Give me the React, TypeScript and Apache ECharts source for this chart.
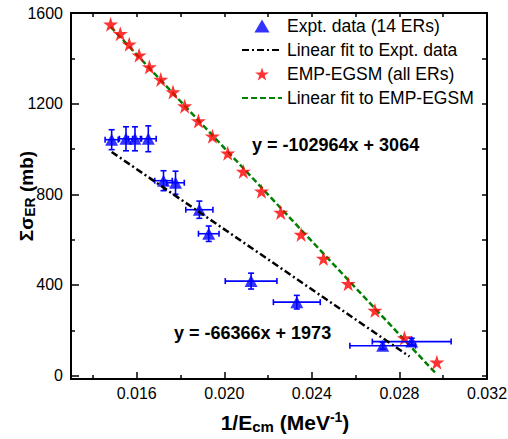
import React, { useEffect, useRef } from "react";
import * as echarts from "echarts";

const FONT = '"Liberation Sans", Arial, Helvetica, sans-serif';

// axis ticks
const xTicksMajor = [0.016, 0.02, 0.024, 0.028, 0.032];
const xTicksMinor = [0.014, 0.018, 0.022, 0.026, 0.03];
const yTicksMajor = [0, 400, 800, 1200, 1600];
const yTicksMinor = [200, 600, 1000, 1400];

// Expt. data (14 ERs)
const exptX = [0.014857, 0.015511, 0.015922, 0.01653, 0.017225, 0.017774, 0.018862, 0.019291, 0.021225, 0.023314, 0.027237, 0.028562];
const exptY = [1041, 1045, 1045, 1045, 860, 851, 732, 626, 417, 324, 132, 150];
const exptXErr = [0.0003, 0.0003, 0.0003, 0.00036, 0.0004, 0.0004, 0.00062, 0.00047, 0.00118, 0.00107, 0.0015, 0.0018];
const exptYErr = [44, 53, 53, 57, 44, 51, 38, 34, 35, 30, 15, 15];

// EMP-EGSM (all ERs)
const empX = [0.01481, 0.01525, 0.01566, 0.01611, 0.01658, 0.0171, 0.01766, 0.01819, 0.01882, 0.01946, 0.02016, 0.02087, 0.0217, 0.02258, 0.02351, 0.02453, 0.02566, 0.02688, 0.02823, 0.02971];
const empY = [1550, 1508, 1462, 1414, 1362, 1307, 1251, 1189, 1123, 1056, 981, 901, 813, 720, 623, 517, 405, 287, 166, 59];

// linear fits: [slope, intercept] and x-range
const exptFitCoef = [-66366, 1973];
const exptFitRange = [0.014857, 0.028462];
const empFitCoef = [-102964, 3064];
const empFitRange = [0.01481, 0.02964];

const X_MIN = 0.013;
const X_MAX = 0.032;
const Y_MIN = -15;
const Y_MAX = 1600;

const STAR = "path://M50,0 L61.8,35.1 L98.9,35.1 L68.9,56.8 L80.3,91.9 L50,70.2 L19.7,91.9 L31.1,56.8 L1.1,35.1 L38.2,35.1 Z";
const TRI = "path://M50,0 L100,86 L0,86 Z";

const fitPoints = (coef: number[], range: number[]) => range.map((x) => [x, coef[0] * x + coef[1]]);
const eqText = (coef: number[]) => `y = ${coef[0]}x + ${coef[1]}`;

const tickStyle = { color: "#000", width: 1.5 };

export default function App() {
  const ref = useRef<HTMLDivElement>(null);
  useEffect(() => {
    if (!ref.current) return;
    const chart = echarts.init(ref.current, null, { renderer: "svg" });
    const richX = {
      b: { fontSize: 21, fontWeight: "bold", fontFamily: FONT, color: "#000", lineHeight: 24 },
      sub: { fontSize: 15, fontWeight: "bold", fontFamily: FONT, color: "#000", lineHeight: 8, verticalAlign: "bottom" },
      sup: { fontSize: 14, fontWeight: "bold", fontFamily: FONT, color: "#000", lineHeight: 13, verticalAlign: "top" },
    };
    const richY = {
      b: { fontSize: 19, fontWeight: "bold", fontFamily: FONT, color: "#000", lineHeight: 22 },
      sub: { fontSize: 14, fontWeight: "bold", fontFamily: FONT, color: "#000", lineHeight: 8, verticalAlign: "bottom" },
    };
    const option: any = {
      animation: false,
      backgroundColor: "#fff",
      grid: { left: 71, right: 21, top: 13, bottom: 60, containLabel: false, outerBoundsMode: "none" },
      legend: {
        orient: "vertical",
        left: 236,
        top: 11,
        itemWidth: 40,
        itemHeight: 13,
        itemGap: 4,
        textStyle: { fontSize: 17.5, fontFamily: FONT, color: "#000", lineHeight: 20 },
        data: [
          { name: "Expt. data (14 ERs)", icon: TRI },
          { name: "Linear fit to Expt. data", itemStyle: { opacity: 0 } },
          { name: "EMP-EGSM (all ERs)", icon: STAR },
          { name: "Linear fit to EMP-EGSM", itemStyle: { opacity: 0 } },
        ],
      },
      xAxis: [
        {
          type: "value",
          min: X_MIN,
          max: X_MAX,
          position: "bottom",
          axisLine: { show: true, onZero: false, lineStyle: { color: "#000", width: 2 } },
          axisTick: { show: true, inside: true, length: 7, customValues: xTicksMajor, lineStyle: tickStyle },
          axisLabel: { show: true, customValues: xTicksMajor, formatter: (v: number) => v.toFixed(3), fontSize: 16, fontFamily: FONT, color: "#000", margin: 6 },
          splitLine: { show: false },
          name: "{b|1/E}{sub|cm}{b| (MeV}{sup|-1}{b|)}",
          nameLocation: "middle",
          nameGap: 31,
          nameMoveOverlap: false,
          nameTextStyle: { rich: richX, padding: [0, 0, 0, 12] },
        },
        {
          type: "value",
          min: X_MIN,
          max: X_MAX,
          position: "bottom",
          axisLine: { show: false, onZero: false },
          axisTick: { show: true, inside: true, length: 4, customValues: xTicksMinor, lineStyle: tickStyle },
          axisLabel: { show: false },
          splitLine: { show: false },
        },
        {
          type: "value",
          min: X_MIN,
          max: X_MAX,
          position: "top",
          axisLine: { show: true, onZero: false, lineStyle: { color: "#000", width: 2 } },
          axisTick: { show: true, inside: true, length: 4, customValues: [...xTicksMajor, ...xTicksMinor], lineStyle: tickStyle },
          axisLabel: { show: false },
          splitLine: { show: false },
        },
      ],
      yAxis: [
        {
          type: "value",
          min: Y_MIN,
          max: Y_MAX,
          position: "left",
          axisLine: { show: true, onZero: false, lineStyle: { color: "#000", width: 2 } },
          axisTick: { show: true, inside: true, length: 8, customValues: yTicksMajor, lineStyle: tickStyle },
          axisLabel: { show: true, customValues: yTicksMajor, formatter: (v: number) => String(v), fontSize: 16, fontFamily: FONT, color: "#000", margin: 8 },
          splitLine: { show: false },
          name: "{b|Σσ}{sub|ER}{b| (mb)}",
          nameLocation: "middle",
          nameGap: 34,
          nameMoveOverlap: false,
          nameTextStyle: { rich: richY },
        },
        {
          type: "value",
          min: Y_MIN,
          max: Y_MAX,
          position: "left",
          axisLine: { show: false, onZero: false },
          axisTick: { show: true, inside: true, length: 4, customValues: yTicksMinor, lineStyle: tickStyle },
          axisLabel: { show: false },
          splitLine: { show: false },
        },
        {
          type: "value",
          min: Y_MIN,
          max: Y_MAX,
          position: "right",
          axisLine: { show: true, onZero: false, lineStyle: { color: "#000", width: 2 } },
          axisTick: { show: true, inside: true, length: 5, customValues: [...yTicksMajor, ...yTicksMinor], lineStyle: tickStyle },
          axisLabel: { show: false },
          splitLine: { show: false },
        },
      ],
      series: [
        {
          name: "Linear fit to EMP-EGSM",
          type: "line",
          data: fitPoints(empFitCoef, empFitRange),
          symbol: "none",
          lineStyle: { color: "#008000", width: 2.5, type: [6, 3] },
          itemStyle: { color: "#008000" },
          z: 2,
        },
        {
          name: "EMP-EGSM (all ERs)",
          type: "scatter",
          data: empX.map((x, i) => [x, empY[i]]),
          symbol: STAR,
          symbolSize: 15,
          itemStyle: { color: "#ff0000" },
          z: 3,
        },
        {
          name: "errbars",
          type: "custom",
          data: exptX.map((x, i) => [x, exptY[i], exptXErr[i], exptYErr[i]]),
          encode: { x: 0, y: 1 },
          z: 4,
          renderItem: (params: any, api: any) => {
            const x = api.value(0);
            const y = api.value(1);
            const dx = api.value(2);
            const dy = api.value(3);
            const l = api.coord([x - dx, y]);
            const r = api.coord([x + dx, y]);
            const t = api.coord([x, y + dy]);
            const b = api.coord([x, y - dy]);
            const cap = 3;
            const style = { stroke: "#0000ff", lineWidth: 1.6 };
            return {
              type: "group",
              children: [
                { type: "line", shape: { x1: l[0], y1: l[1], x2: r[0], y2: r[1] }, style },
                { type: "line", shape: { x1: l[0], y1: l[1] - cap, x2: l[0], y2: l[1] + cap }, style },
                { type: "line", shape: { x1: r[0], y1: r[1] - cap, x2: r[0], y2: r[1] + cap }, style },
                { type: "line", shape: { x1: t[0], y1: t[1], x2: b[0], y2: b[1] }, style },
                { type: "line", shape: { x1: t[0] - cap, y1: t[1], x2: t[0] + cap, y2: t[1] }, style },
                { type: "line", shape: { x1: b[0] - cap, y1: b[1], x2: b[0] + cap, y2: b[1] }, style },
              ],
            };
          },
        },
        {
          name: "Expt. data (14 ERs)",
          type: "scatter",
          data: exptX.map((x, i) => [x, exptY[i]]),
          symbol: "triangle",
          symbolSize: [13, 12],
          itemStyle: { color: "#0000ff" },
          z: 5,
        },
        {
          name: "Linear fit to Expt. data",
          type: "line",
          data: fitPoints(exptFitCoef, exptFitRange),
          symbol: "none",
          lineStyle: { color: "#000", width: 2.5, type: [7, 3, 2, 3] },
          itemStyle: { color: "#000" },
          z: 6,
        },
      ],
      graphic: [
        {
          type: "text",
          x: 252,
          y: 145,
          style: { text: eqText(empFitCoef), fontSize: 18, fontWeight: "bold", fontFamily: FONT, fill: "#000", textAlign: "left", textVerticalAlign: "middle", verticalAlign: "middle" },
        },
        {
          type: "text",
          x: 174,
          y: 333,
          style: { text: eqText(exptFitCoef), fontSize: 18, fontWeight: "bold", fontFamily: FONT, fill: "#000", textAlign: "left", textVerticalAlign: "middle", verticalAlign: "middle" },
        },
      ],
    };
    chart.setOption(option);
    return () => chart.dispose();
  }, []);
  return <div ref={ref} style={{ position: "fixed", left: 0, top: 0, width: 508, height: 439, background: "#fff" }} />;
}
